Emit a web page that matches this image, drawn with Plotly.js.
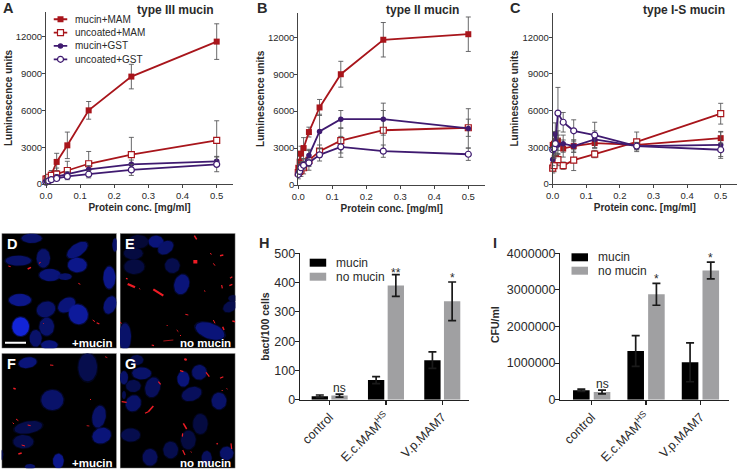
<!DOCTYPE html>
<html><head><meta charset="utf-8">
<script src="https://cdn.plot.ly/plotly-3.0.1.min.js"></script>
<style>html,body{margin:0;padding:0;background:#fff}#c{width:747px;height:470px}</style>
</head><body><div id="c"></div><script>
const doses=[0,0.0039,0.0078,0.0156,0.03125,0.0625,0.125,0.25,0.5];
const seriesNames=['mucin+MAM','uncoated+MAM','mucin+GST','uncoated+GST'];
// Panel A
const A_mucinMAM=[200,300,450,750,1800,3150,6000,8750,11600];
const A_mucinMAM_err=[80,120,200,350,700,1080,720,1000,1450];
const A_uncMAM=[400,450,550,700,800,1100,1650,2400,3550];
const A_uncMAM_err=[100,120,150,250,500,750,1000,1400,1600];
const A_mucinGST=[150,200,280,400,600,800,1200,1600,1850];
const A_mucinGST_err=[50,60,80,100,150,200,300,350,400];
const A_uncGST=[150,200,250,350,450,620,800,1150,1600];
const A_uncGST_err=[50,50,70,100,130,180,300,450,600];
// Panel B
const B_mucinMAM=[1400,1900,2550,3000,4300,6300,9000,11800,12250];
const B_mucinMAM_err=[300,400,600,850,400,650,1050,1400,1400];
const B_uncMAM=[1000,1100,1200,1400,2000,2750,3600,4450,4650];
const B_uncMAM_err=[300,400,500,500,800,500,1000,1600,700];
const B_mucinGST=[1000,1300,1500,1700,2400,4350,5350,5350,4600];
const B_mucinGST_err=[300,400,400,400,500,1400,700,1300,1600];
const B_uncGST=[850,1100,1400,1600,1800,2450,3100,2750,2500];
const B_uncGST_err=[350,300,300,300,300,500,850,500,500];
// Panel C
const C_mucinMAM=[3200,3300,3500,3550,2900,3100,3350,3200,3750];
const C_mucinMAM_err=[500,600,700,800,700,500,400,300,500];
const C_uncMAM=[1300,1500,2100,2000,1500,1950,2450,3450,5750];
const C_uncMAM_err=[400,500,500,500,300,850,300,800,850];
const C_mucinGST=[2000,2900,4100,3200,3300,3100,3650,3100,3200];
const C_mucinGST_err=[500,700,900,800,700,500,700,300,1100];
const C_uncGST=[2800,2900,3300,5800,5050,4350,4000,3100,2800];
const C_uncGST_err=[500,800,1000,2100,800,900,1050,300,550];
// Panels H, I
const barCategories=['control','E.c.MAM<sup>HS</sup>','V.p.MAM7'];
const H_mucin=[12,67,135], H_mucin_err=[4,12,28];
const H_noMucin=[14,390,336], H_noMucin_err=[5,37,66];
const I_mucin=[260000,1330000,1020000], I_mucin_err=[30000,420000,530000];
const I_noMucin=[210000,2880000,3530000], I_noMucin_err=[50000,300000,230000];
// Micrographs: nuclei [cx,cy,rx,ry,angleDeg,brightness], specks [x0,y0,x1,y1,width]
const D_nuclei=[[95,40,30,14,0,.7],[55,107,38,15,0,.7],[130,100,20,28,0,.7],[232,75,35,18,-35,.75],[232,120,28,22,0,.8],[150,150,32,18,0,.75],[195,155,20,10,0,.7],[328,158,18,33,0,.8],[60,225,33,18,0,.8],[138,253,28,23,-20,.7],[200,240,28,20,-35,.75],[235,268,28,30,-30,.85],[330,240,18,27,20,.75],[62,305,25,28,0,1],[140,305,22,27,0,.7],[107,340,18,25,0,.7],[148,360,25,14,0,.75],[345,60,8,20,0,.7]];
const E_nuclei=[[415,50,30,20,0,.5],[400,85,28,18,0,.55],[468,50,22,18,0,.75],[497,68,25,18,-35,.7],[403,125,30,22,0,.55],[517,122,22,22,0,.6],[545,178,22,30,15,.75],[375,335,18,40,0,.7],[630,318,45,23,20,.75],[690,245,22,15,-30,.6],[700,220,15,10,0,.55]];
const F_nuclei=[[83,413,27,16,-10,.75],[263,427,28,42,0,.6],[157,525,33,30,0,.7],[297,575,20,33,10,.7],[305,632,28,23,-20,.75],[85,607,42,18,-10,.6],[70,650,30,20,0,.6],[175,708,16,22,0,.8],[90,725,15,8,0,.7],[5,690,5,15,0,.6]];
const G_nuclei=[[410,405,20,15,0,.6],[425,445,28,18,0,.7],[372,458,12,20,0,.7],[400,483,22,18,0,.6],[458,487,22,30,15,.65],[400,535,22,25,30,.7],[550,462,18,23,0,.75],[598,442,22,22,0,.7],[575,507,30,20,-20,.65],[657,528,22,25,0,.7],[601,597,22,30,0,.55],[392,630,28,20,0,.6],[565,645,22,28,0,.55],[512,675,22,25,0,.6],[450,697,22,25,0,.65],[620,700,15,22,0,.65],[680,685,20,20,0,.7],[372,510,6,12,0,.6]];
const D_specks=[[25,123,32,125,1],[83,132,93,127,1.5],[117,115,122,112,1],[235,175,241,178,1],[278,285,285,290,1],[290,293,298,297,1.2],[130,295,132,297,1]];
const E_specks=[[583,32,590,43,1.5],[630,85,635,88,1],[660,92,670,90,1.5],[580,110,592,110,3.5],[640,115,645,122,1],[690,160,697,155,1.2],[665,180,667,190,1.2],[688,182,697,178,1.2],[378,160,383,162,1.2],[383,177,405,187,2.2],[460,193,490,212,2.2],[418,190,420,193,1],[556,268,565,270,1],[360,292,365,295,1],[500,300,503,303,1],[530,315,535,320,1],[540,330,543,333,1],[490,348,520,345,.7],[455,360,462,362,1.2],[668,305,672,315,1.5],[697,288,706,290,1.5],[640,285,645,295,1],[612,197,616,199,1]];
const F_specks=[[150,420,160,421,1],[40,490,47,492,1.5],[315,395,322,398,.8],[270,522,273,525,1],[48,582,55,587,1],[38,593,42,597,1],[83,600,92,602,1],[260,602,268,603,.8],[65,660,75,663,1],[55,687,65,684,1.5]];
const G_specks=[[553,402,560,405,2],[540,437,550,440,1.2],[618,442,628,455,1.2],[660,460,670,455,1.2],[475,470,482,478,1.2],[665,495,668,498,1],[680,490,682,493,1],[365,530,380,532,1.2],[435,565,445,560,1.2],[445,560,460,543,1.6],[550,595,560,612,1.5],[548,625,547,635,1.2],[650,655,653,658,1.5],[693,655,695,672,1.2],[548,675,555,690,1.2],[572,680,575,682,1]];

const FONT='"Liberation Sans",Arial,sans-serif';
const RED='#a8151b', PUR='#3f1a70', GREY='#58585a', TXT='#2a2a2a';
const W=747,H=470;
const dx=(a,b)=>[a/W,b/W], dy=(top,bot)=>[1-bot/H,1-top/H];
const traces=[]; const layout={width:W,height:H,margin:{l:0,r:0,t:0,b:0},showlegend:false,paper_bgcolor:'#fff',plot_bgcolor:'rgba(0,0,0,0)',hovermode:false,shapes:[],annotations:[],barmode:'overlay'};
function note(text,x,y,size,bold,color,anchor){layout.annotations.push({text:bold?'<b>'+text+'</b>':text,x:x/W,y:1-y/H,xref:'paper',yref:'paper',showarrow:false,xanchor:anchor||'center',yanchor:'middle',font:{family:FONT,size,color:color||TXT}});}
function axes(i,xo,yo){layout['xaxis'+i]=Object.assign({anchor:'y'+i},xo);layout['yaxis'+i]=Object.assign({anchor:'x'+i},yo);}

// line panels
const lineStyles=[[RED,'square','full'],[RED,'square','open'],[PUR,'circle','full'],[PUR,'circle','open']];
const markerFor=st=>{const open=st[2]==='open';return {symbol:st[1],size:open?6:(st[1]==='square'?6:5.5),color:open?'#fff':st[0],line:{color:st[0],width:open?1.2:0}};};
function linePanel(i,sets,box){
  sets.forEach((s,k)=>{const st=lineStyles[k];
    traces.push({type:'scatter',mode:'lines+markers',name:seriesNames[k],x:doses,y:s[0],xaxis:'x'+i,yaxis:'y'+i,cliponaxis:false,
      line:{color:st[0],width:1.8},marker:markerFor(st),
      error_y:{type:'data',array:s[1],visible:true,color:GREY,thickness:.9,width:2.5}});});
  const xmax=.5*(box.right-box.x0)/(box.x5-box.x0), ymax=12000*(box.y0-box.top)/(box.y0-box.y12);
  axes(i,{domain:dx(box.x0,box.right),range:[0,xmax],tickvals:[0,.1,.2,.3,.4,.5],ticktext:['0.0','0.1','0.2','0.3','0.4','0.5'],ticks:'outside',ticklen:3,tickwidth:1,tickcolor:'#444',showline:true,linecolor:'#444',linewidth:1,showgrid:false,zeroline:false,tickfont:{family:FONT,size:9.5,color:TXT},title:{text:'<b>Protein conc. [mg/ml]</b>',font:{family:FONT,size:10,color:TXT},standoff:3}},
   {domain:dy(box.top,box.y0),range:[0,ymax],tickvals:[0,3000,6000,9000,12000],ticktext:['0','3000','6000','9000','12000'],ticks:'outside',ticklen:3,tickwidth:1,tickcolor:'#444',showline:true,linecolor:'#444',linewidth:1,showgrid:false,zeroline:false,ticklabelstandoff:-2,tickfont:{family:FONT,size:9.5,color:TXT},title:{text:'<b>Luminescence units</b>',font:{family:FONT,size:10,color:TXT},standoff:1}});
}
linePanel(1,[[A_mucinMAM,A_mucinMAM_err],[A_uncMAM,A_uncMAM_err],[A_mucinGST,A_mucinGST_err],[A_uncGST,A_uncGST_err]],{x0:46,x5:216.7,right:233,y0:184,y12:36.7,top:12});
linePanel(2,[[B_mucinMAM,B_mucinMAM_err],[B_uncMAM,B_uncMAM_err],[B_mucinGST,B_mucinGST_err],[B_uncGST,B_uncGST_err]],{x0:298.3,x5:468.3,right:485,y0:185,y12:37.3,top:12.7});
linePanel(3,[[C_mucinMAM,C_mucinMAM_err],[C_uncMAM,C_uncMAM_err],[C_mucinGST,C_mucinGST_err],[C_uncGST,C_uncGST_err]],{x0:552.7,x5:720.7,right:737,y0:184,y12:37.3,top:13});

// compact legend for panel A, drawn on its own small axes
const legendRows=[0,1,2,3], legendKeyX=[0,1,2];
axes(10,{domain:dx(53.5,67.5),range:[0,2],visible:false,fixedrange:true},{domain:dy(12.6,66),range:[3.5,-.5],visible:false,fixedrange:true});
seriesNames.forEach((n,k)=>{const st=lineStyles[k];
  traces.push({type:'scatter',mode:'lines',x:legendKeyX,y:legendKeyX.map(()=>legendRows[k]),line:{color:st[0],width:1.8},xaxis:'x10',yaxis:'y10'});
  traces.push({type:'scatter',mode:'markers',x:[1],y:[legendRows[k]],marker:markerFor(st),xaxis:'x10',yaxis:'y10'});
  note(n,73,19.3+13.33*k,10,false,TXT,'left');
});

// micrographs
function imgPanel(i,xr,yr,nuclei,specks,label,tag){
  axes(i,{domain:dx(xr[0]/3,xr[1]/3),range:xr,visible:false,fixedrange:true},{domain:dy((yr[1]+675)/3,(yr[0]+675)/3),range:yr,visible:false,fixedrange:true});
  layout.shapes.push({type:'rect',xref:'x'+i,yref:'y'+i,x0:xr[0],x1:xr[1],y0:yr[0],y1:yr[1],fillcolor:'#000',line:{color:'#9a9a9a',width:1},layer:'below'});
  nuclei.forEach(n=>{[[1.12,.35],[1,1]].forEach(pass=>{
    const xs=[],ys=[],a=n[4]*Math.PI/180;
    for(let t=0;t<=36;t++){const u=t*Math.PI/18,px=n[2]*pass[0]*Math.cos(u),py=n[3]*pass[0]*Math.sin(u);xs.push(n[0]+px*Math.cos(a)-py*Math.sin(a));ys.push(n[1]+px*Math.sin(a)+py*Math.cos(a));}
    const b=n[5]*n[5];
    traces.push({type:'scatter',mode:'lines',x:xs,y:ys,fill:'toself',fillcolor:`rgba(${Math.round(18*b)},${Math.round(36*b)},${Math.round(215*b)},${pass[1]})`,line:{width:0},xaxis:'x'+i,yaxis:'y'+i});
  });});
  specks.forEach(s=>traces.push({type:'scatter',mode:'lines',x:[s[0],s[2]],y:[s[1],s[3]],line:{color:'#ee1c25',width:s[4]},xaxis:'x'+i,yaxis:'y'+i}));
  layout.annotations.push({text:'<b>'+label+'</b>',xref:'x'+i,yref:'y'+i,x:xr[0]+9,y:yr[1]+32,xanchor:'left',yanchor:'middle',showarrow:false,font:{family:FONT,size:14.5,color:'#fff'}});
  layout.annotations.push({text:'<b>'+tag+'</b>',xref:'x'+i,yref:'y'+i,x:xr[1]-6,y:yr[0]-16,xanchor:'right',yanchor:'middle',showarrow:false,font:{family:FONT,size:11.5,color:'#fff'}});
}
imgPanel(4,[5,350],[370,25],D_nuclei,D_specks,'D','+mucin');
imgPanel(5,[360,706],[370,25],E_nuclei,E_specks,'E','no mucin');
imgPanel(6,[5,350],[730,385],F_nuclei,F_specks,'F','+mucin');
imgPanel(7,[360,706],[730,385],G_nuclei,G_specks,'G','no mucin');
const scaleBarX=[15,78], scaleBarY=[353,353];
traces.push({type:'scatter',mode:'lines',x:scaleBarX,y:scaleBarY,line:{color:'#fff',width:2},xaxis:'x4',yaxis:'y4'});

// bar panels
function barPanel(i,m,me,n,ne,o){
  [[m,me,'#000',o.off1],[n,ne,'#a0a0a2',o.off2]].forEach(s=>traces.push({type:'bar',x:[0,1,2],y:s[0],width:o.w,offset:s[3],marker:{color:s[2],line:{width:0}},xaxis:'x'+i,yaxis:'y'+i,
    error_y:{type:'data',array:s[1],visible:true,color:'#1a1a1a',thickness:1.7,width:4}}));
  axes(i,{domain:dx(o.left,o.right),range:o.xr,tickvals:[0,1,2],ticktext:barCategories,tickangle:-45,ticks:'outside',ticklen:4,tickwidth:1.2,tickcolor:'#222',showline:true,linecolor:'#222',linewidth:1.3,showgrid:false,zeroline:false,tickfont:{family:FONT,size:12.5,color:TXT}},
    {domain:dy(253.3,399.7),range:o.yr,tickvals:o.yt,ticktext:o.yt.map(String),ticks:'outside',ticklen:4,tickwidth:1.2,tickcolor:'#222',showline:true,linecolor:'#222',linewidth:1.3,showgrid:false,zeroline:false,ticklabelstandoff:-3,tickfont:{family:FONT,size:12.5,color:TXT},
     title:o.title?{text:'<b>'+o.title+'</b>',font:{family:FONT,size:10.5,color:TXT},standoff:2}:undefined});
  o.marks.forEach(k=>layout.annotations.push({text:k[0],x:k[1],y:k[2],xref:'x'+i,yref:'y'+i,showarrow:false,xanchor:'center',yanchor:'middle',font:{family:FONT,size:12,color:TXT}}));
  [['mucin','#000',0],['no mucin','#a0a0a2',o.ldy]].forEach(l=>{
    layout.shapes.push({type:'rect',xref:'paper',yref:'paper',x0:o.lx/W,x1:(o.lx+16.5)/W,y0:1-(o.ly+4+l[2])/H,y1:1-(o.ly-4+l[2])/H,fillcolor:l[1],line:{width:0}});
    note(l[0],o.lx+24,o.ly+l[2],12,false,TXT,'left');
  });
}
barPanel(8,H_mucin,H_mucin_err,H_noMucin,H_noMucin_err,{left:300,right:469.3,xr:[-.527,2.48],yr:[0,500],yt:[0,100,200,300,400,500],w:.29,off1:-.32,off2:.03,lx:309.7,ly:262.7,ldy:14,title:'bact/100 cells',marks:[['ns',.175,40],['**',1.175,434],['*',2.175,414]]});
barPanel(9,I_mucin,I_mucin_err,I_noMucin,I_noMucin_err,{left:560.3,right:728.7,xr:[-.577,2.52],yr:[0,4000000],yt:[0,1000000,2000000,3000000,4000000],w:.305,off1:-.343,off2:.038,lx:571.5,ly:257.3,ldy:13.4,marks:[['ns',.19,420000],['*',1.19,3300000],['*',2.19,3870000]]});
note('<b>CFU/ml</b>',495,325,10.5,false,TXT);
layout.annotations[layout.annotations.length-1].textangle=-90;

// headers
note('type III mucin',175,10,12,true);note('type II mucin',422.7,9.5,12,true);note('type I-S mucin',683.7,9.5,12,true);
note('A',1,8,14.5,true,TXT,'left');note('B',255,8,14.5,true,TXT,'left');note('C',508,8,14.5,true,TXT,'left');
note('H',257,243,14.5,true,TXT,'left');note('I',491,243,14.5,true,TXT,'left');

Plotly.newPlot('c',traces.map(t=>Object.assign({showlegend:false},t)),layout,{displayModeBar:false,staticPlot:true});
</script></body></html>
